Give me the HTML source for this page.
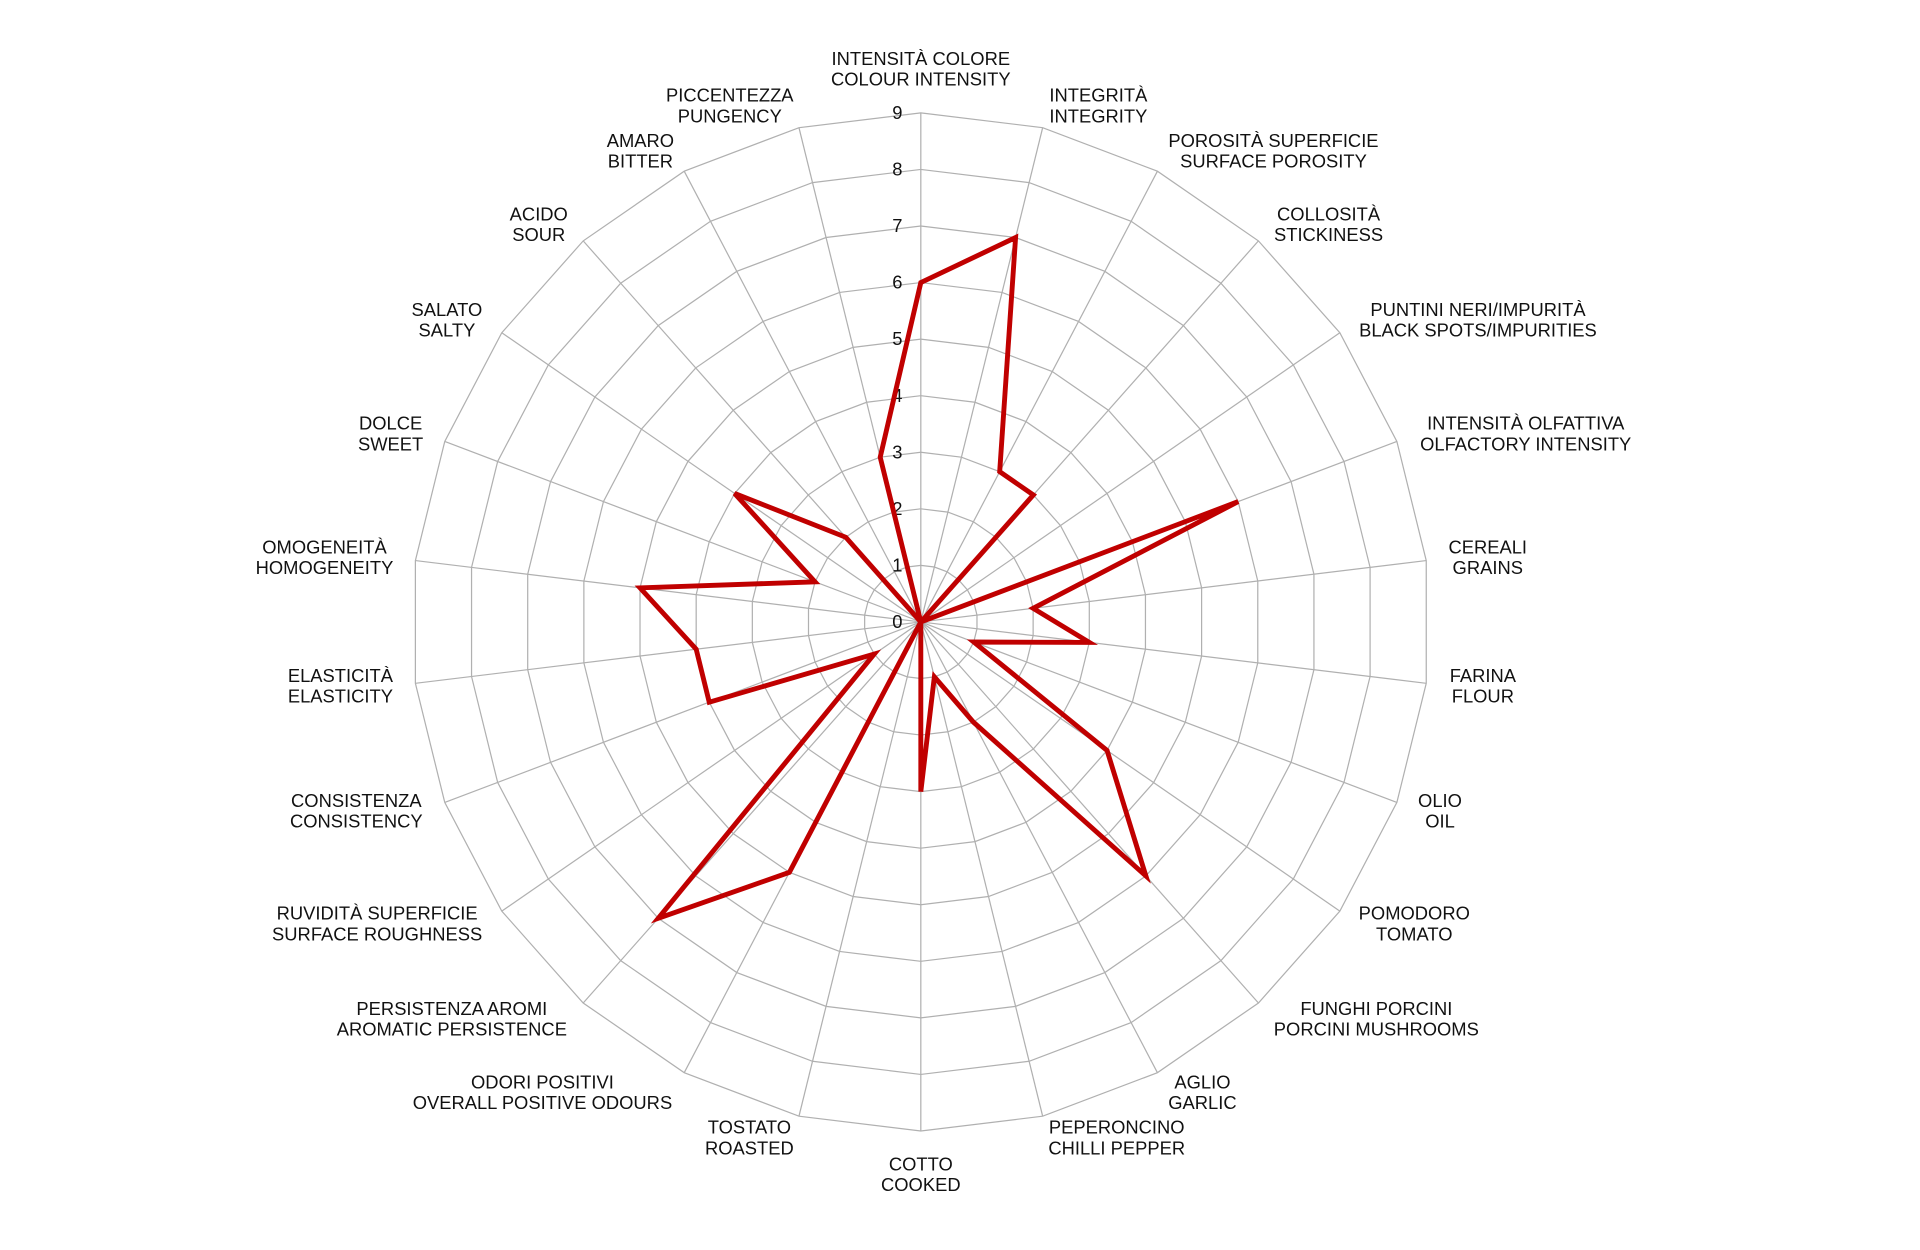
<!DOCTYPE html>
<html><head><meta charset="utf-8"><style>
html,body{margin:0;padding:0;background:#fff;}
svg{display:block;}
text{font-family:"Liberation Sans",Arial,sans-serif;font-size:15px;fill:#111;}
</style></head><body>
<svg id="c" width="1920" height="1250" viewBox="0 0 1568 1021" preserveAspectRatio="none" xmlns="http://www.w3.org/2000/svg"></svg>
<script>
var svg=document.getElementById('c'),NS='http://www.w3.org/2000/svg';
var cx=752,cy=508,u=46.2,N=26;
function el(t,a,txt){var e=document.createElementNS(NS,t);for(var k in a)e.setAttribute(k,a[k]);if(txt!=null)e.textContent=txt;svg.appendChild(e);return e;}
function pt(i,r){var a=i*2*Math.PI/N;return [cx+Math.sin(a)*r*u,cy-Math.cos(a)*r*u];}
for(var r=1;r<=9;r++){var p=[];for(var i=0;i<N;i++)p.push(pt(i,r).join(','));el('polygon',{points:p.join(' '),fill:'none',stroke:'#b0b0b0','stroke-width':1});}
for(var i=0;i<N;i++){var q=pt(i,9);el('line',{x1:cx,y1:cy,x2:q[0],y2:q[1],stroke:'#b0b0b0','stroke-width':1});}
for(var r=0;r<=9;r++)el('text',{x:737,y:cy-r*u+5,'text-anchor':'end'},String(r));
var vals=[6,7,3,3,0,6,2,3,1,4,6,2,1,3,0,5,7,1,4,4,5,2,4,2,0,3];
var p=[];for(var i=0;i<N;i++)p.push(pt(i,vals[i]).join(','));
el('polygon',{points:p.join(' '),fill:'none',stroke:'#c00000','stroke-width':4,'stroke-linejoin':'miter'});
var L=[[752,48,'INTENSITÀ COLORE','COLOUR INTENSITY'],[897,78,'INTEGRITÀ','INTEGRITY'],[1040,115,'POROSITÀ SUPERFICIE','SURFACE POROSITY'],[1085,175,'COLLOSITÀ','STICKINESS'],[1207,253,'PUNTINI NERI/IMPURITÀ','BLACK SPOTS/IMPURITIES'],[1246,346,'INTENSITÀ OLFATTIVA','OLFACTORY INTENSITY'],[1215,447,'CEREALI','GRAINS'],[1211,552,'FARINA','FLOUR'],[1176,654,'OLIO','OIL'],[1155,746,'POMODORO','TOMATO'],[1124,824,'FUNGHI PORCINI','PORCINI MUSHROOMS'],[982,884,'AGLIO','GARLIC'],[912,921,'PEPERONCINO','CHILLI PEPPER'],[752,951,'COTTO','COOKED'],[612,921,'TOSTATO','ROASTED'],[443,884,'ODORI POSITIVI','OVERALL POSITIVE ODOURS'],[369,824,'PERSISTENZA AROMI','AROMATIC PERSISTENCE'],[308,746,'RUVIDITÀ SUPERFICIE','SURFACE ROUGHNESS'],[291,654,'CONSISTENZA','CONSISTENCY'],[278,552,'ELASTICITÀ','ELASTICITY'],[265,447,'OMOGENEITÀ','HOMOGENEITY'],[319,346,'DOLCE','SWEET'],[365,253,'SALATO','SALTY'],[440,175,'ACIDO','SOUR'],[523,115,'AMARO','BITTER'],[596,78,'PICCENTEZZA','PUNGENCY']];
L.forEach(function(l){el('text',{x:l[0],y:l[1]+5,'text-anchor':'middle'},l[2]);el('text',{x:l[0],y:l[1]+22,'text-anchor':'middle'},l[3]);});
</script>
</body></html>
